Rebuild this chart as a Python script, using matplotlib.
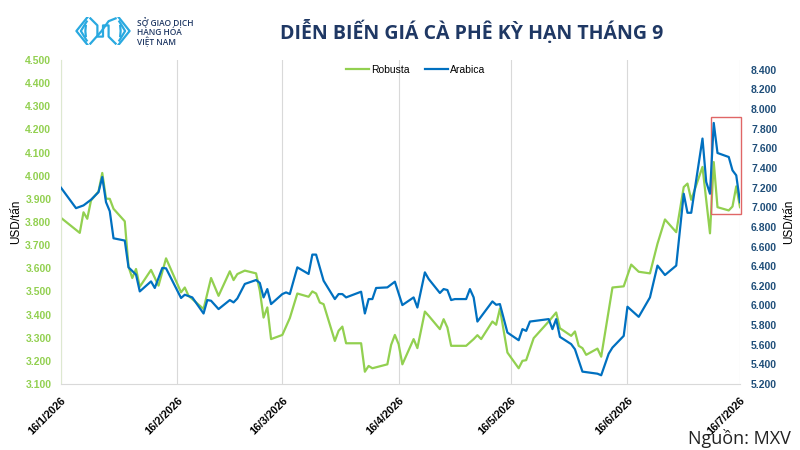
import matplotlib
matplotlib.use("Agg")
import matplotlib.pyplot as plt
from matplotlib.ticker import FuncFormatter, MultipleLocator, FixedLocator
from matplotlib.patches import Rectangle
from matplotlib.transforms import ScaledTranslation
import matplotlib.dates as mdates
import pandas as pd

# Robusta (USD/tan, left axis)
robusta_dates = ["16/1", "21/1", "22/1", "23/1", "24/1", "26/1", "27/1", "28/1", "29/1", "30/1",
                 "2/2", "3/2", "4/2", "5/2", "6/2", "9/2", "11/2", "13/2", "17/2", "18/2",
                 "19/2", "20/2", "23/2", "25/2", "27/2", "2/3", "3/3", "4/3", "6/3", "9/3",
                 "10/3", "11/3", "12/3", "13/3", "16/3", "18/3", "20/3", "23/3", "24/3", "25/3",
                 "26/3", "27/3", "30/3", "31/3", "1/4", "2/4", "6/4", "7/4", "8/4", "9/4",
                 "13/4", "14/4", "15/4", "16/4", "17/4", "20/4", "21/4", "23/4", "24/4", "27/4",
                 "28/4", "29/4", "30/4", "4/5", "6/5", "7/5", "8/5", "11/5", "12/5", "13/5",
                 "15/5", "18/5", "19/5", "20/5", "22/5", "26/5", "28/5", "29/5", "1/6", "2/6",
                 "3/6", "4/6", "5/6", "8/6", "9/6", "12/6", "15/6", "17/6", "19/6", "22/6",
                 "24/6", "26/6", "29/6", "1/7", "2/7", "3/7", "6/7", "8/7", "9/7", "10/7",
                 "13/7", "14/7", "15/7", "16/7"]
robusta = [3818, 3753, 3842, 3814, 3893, 3932, 4012, 3901, 3900, 3857,
           3803, 3607, 3558, 3597, 3520, 3593, 3525, 3643, 3496, 3517,
           3481, 3467, 3424, 3558, 3481, 3587, 3549, 3575, 3590, 3578,
           3503, 3387, 3431, 3294, 3312, 3385, 3491, 3477, 3500, 3491,
           3452, 3445, 3286, 3330, 3348, 3276, 3276, 3153, 3178, 3168,
           3185, 3269, 3312, 3272, 3185, 3294, 3255, 3413, 3395, 3337,
           3380, 3344, 3265, 3265, 3294, 3311, 3294, 3370, 3356, 3426,
           3236, 3168, 3200, 3203, 3298, 3370, 3409, 3341, 3308, 3327,
           3265, 3255, 3226, 3253, 3218, 3517, 3522, 3616, 3585, 3578,
           3706, 3811, 3756, 3951, 3966, 3896, 4038, 3751, 4059, 3864,
           3850, 3867, 3954, 3864]

# Arabica (USD/tan, right axis)
arabica_dates = ["16/1", "20/1", "22/1", "24/1", "26/1", "27/1", "28/1", "29/1", "30/1", "2/2",
                 "3/2", "5/2", "6/2", "9/2", "10/2", "12/2", "13/2", "17/2", "18/2", "20/2",
                 "23/2", "24/2", "25/2", "27/2", "2/3", "3/3", "4/3", "6/3", "9/3", "10/3",
                 "11/3", "12/3", "13/3", "16/3", "17/3", "18/3", "20/3", "23/3", "24/3", "25/3",
                 "27/3", "30/3", "31/3", "1/4", "2/4", "6/4", "7/4", "8/4", "9/4", "10/4",
                 "13/4", "15/4", "17/4", "20/4", "21/4", "23/4", "24/4", "27/4", "28/4", "29/4",
                 "30/4", "1/5", "4/5", "5/5", "6/5", "7/5", "11/5", "12/5", "13/5", "15/5",
                 "18/5", "19/5", "20/5", "21/5", "26/5", "27/5", "28/5", "29/5", "1/6", "2/6",
                 "4/6", "8/6", "9/6", "11/6", "12/6", "15/6", "16/6", "19/6", "22/6", "24/6",
                 "26/6", "29/6", "1/7", "2/7", "3/7", "6/7", "7/7", "8/7", "9/7", "10/7",
                 "13/7", "14/7", "15/7", "16/7"]
arabica = [7199, 6991, 7019, 7077, 7154, 7308, 7052, 6960, 6684, 6661,
           6388, 6314, 6143, 6245, 6178, 6382, 6378, 6076, 6109, 6082,
           5918, 6055, 6048, 5963, 6055, 6031, 6071, 6219, 6259, 6229,
           6082, 6167, 6014, 6116, 6133, 6116, 6388, 6321, 6518, 6518,
           6252, 6065, 6116, 6116, 6082, 6140, 5918, 6065, 6065, 6178,
           6184, 6242, 6004, 6082, 5979, 6337, 6270, 6127, 6167, 6157,
           6055, 6065, 6065, 6167, 6082, 5836, 6041, 6007, 6014, 5724,
           5646, 5759, 5741, 5836, 5861, 5759, 5861, 5680, 5606, 5554,
           5326, 5305, 5289, 5509, 5571, 5690, 5987, 5884, 6082, 6406,
           6310, 6406, 7138, 6944, 6944, 7700, 7257, 7138, 7859, 7553,
           7512, 7376, 7325, 7052]

tick_dates = ["16/1", "16/2", "16/3", "16/4", "16/5", "16/6", "16/7"]
highlight = ("8/7", "16/7", 3836, 4254)  # red box around last days


def to_dt(days):
    return pd.to_datetime([d + "/2026" for d in days], format="%d/%m/%Y")


def dot_thousands(v, pos):
    return f"{v:,.0f}".replace(",", ".")


green = "#92D050"
blue = "#0070C0"
navy = "#1F3864"

fig = plt.figure(figsize=(8, 4.5), dpi=100)
ax = fig.add_axes([61 / 800, 1 - 384 / 450, 679 / 800, 324 / 450])
ax2 = ax.twinx()

l1, = ax.plot(to_dt(robusta_dates), robusta, color=green, lw=1.6, label="Robusta")
l2, = ax2.plot(to_dt(arabica_dates), arabica, color=blue, lw=1.6, label="Arabica")

ticks = to_dt(tick_dates)
ax.set_xlim(ticks[0], ticks[-1])
ax.xaxis.set_major_locator(FixedLocator(mdates.date2num(ticks)))
ax.set_xticklabels([t + "/2026" for t in tick_dates], rotation=45, ha="right",
                   rotation_mode="anchor", fontsize=7.8, fontweight="bold",
                   family="Liberation Sans")
shift = ScaledTranslation(6 / 72, 0, fig.dpi_scale_trans)
for t in ax.get_xticklabels():
    t.set_transform(t.get_transform() + shift)
ax.tick_params(axis="x", length=0, pad=8)
ax.grid(axis="x", color="#d9d9d9", lw=0.8)
ax.set_axisbelow(True)

ax.set_ylim(3100, 4500)
ax.yaxis.set_major_locator(MultipleLocator(100))
ax.yaxis.set_major_formatter(FuncFormatter(dot_thousands))
ax.tick_params(axis="y", length=0, pad=7, labelcolor=green, labelsize=7.5)
for t in ax.get_yticklabels():
    t.set_fontweight("bold")
    t.set_family("Liberation Sans")

ax2.set_ylim(5200, 8500)
ax2.yaxis.set_major_locator(FixedLocator(range(5200, 8401, 200)))
ax2.yaxis.set_major_formatter(FuncFormatter(dot_thousands))
ax2.tick_params(axis="y", length=0, pad=8, labelcolor="#1F4E79", labelsize=7.5)
for t in ax2.get_yticklabels():
    t.set_fontweight("bold")
    t.set_family("Liberation Sans")

for a in (ax, ax2):
    for s in ("top", "right", "left"):
        a.spines[s].set_visible(False)
ax.spines["left"].set_visible(True)
ax.spines["left"].set_color("#dde8d0")
ax.spines["bottom"].set_color("#d9d9d9")
ax2.spines["bottom"].set_visible(False)

ax.set_ylabel("USD/tấn", fontsize=8.5, family="Liberation Sans", labelpad=2)
ax2.set_ylabel("USD/tấn", fontsize=8.5, family="Liberation Sans", labelpad=4)

# red highlight box
x0, x1 = mdates.date2num(to_dt([highlight[0], highlight[1]]))
ax.add_patch(Rectangle((x0 + 0.4, highlight[2]), x1 - x0 - 0.2, highlight[3] - highlight[2],
                       fill=False, ec="#E06666", lw=1.0, zorder=5, clip_on=False))

fig.legend(handles=[l1, l2], loc="center", bbox_to_anchor=(0.52, 0.845), ncol=2,
           frameon=False, handlelength=2.2, handletextpad=0.2,
           columnspacing=1.5, prop={"family": "Liberation Sans", "size": 7.5})

fig.text(0.589, 0.928, "DIỄN BIẾN GIÁ CÀ PHÊ KỲ HẠN THÁNG 9", ha="center", va="center",
         fontsize=14, fontweight="bold", color=navy, family="Open Sans")

fig.text(0.988, 0.004, "Nguồn: MXV", ha="right", va="bottom", fontsize=13,
         family="Open Sans", color="#222222")

# logo
lg = fig.add_axes([75 / 800, 1 - 45 / 450, 56 / 800, 28 / 450])
lg.set_xlim(0, 20)
lg.set_ylim(0, 10)
lg.axis("off")
lc = "#29A9E0"
for k in range(3):
    o = k * 1.6
    lg.plot([4 - o * 0.2 + 0.5, 0.5 + o, 4 - o * 0.2 + 0.5], [10 - o, 5, o], color=lc, lw=1.6)
    lg.plot([15.5 + o * 0.2, 19.5 - o, 15.5 + o * 0.2], [10 - o, 5, o], color=lc, lw=1.6)
lg.plot([5.5, 8, 8, 10, 10, 12, 12, 14.5], [9.5, 7, 3, 3, 7, 7, 3, 0.5], color=lc, lw=1.6)
lg.plot([5.5, 9.5, 12, 14.5], [0.5, 5, 8.5, 9.5], color=lc, lw=1.6)

fig.text(137 / 800, 1 - 32 / 450, "SỞ GIAO DỊCH\nHÀNG HÓA\nVIỆT NAM", fontsize=6,
         color=navy, family="Open Sans", fontweight="semibold", va="center",
         linespacing=1.0)

fig.savefig("out.png", dpi=100)
